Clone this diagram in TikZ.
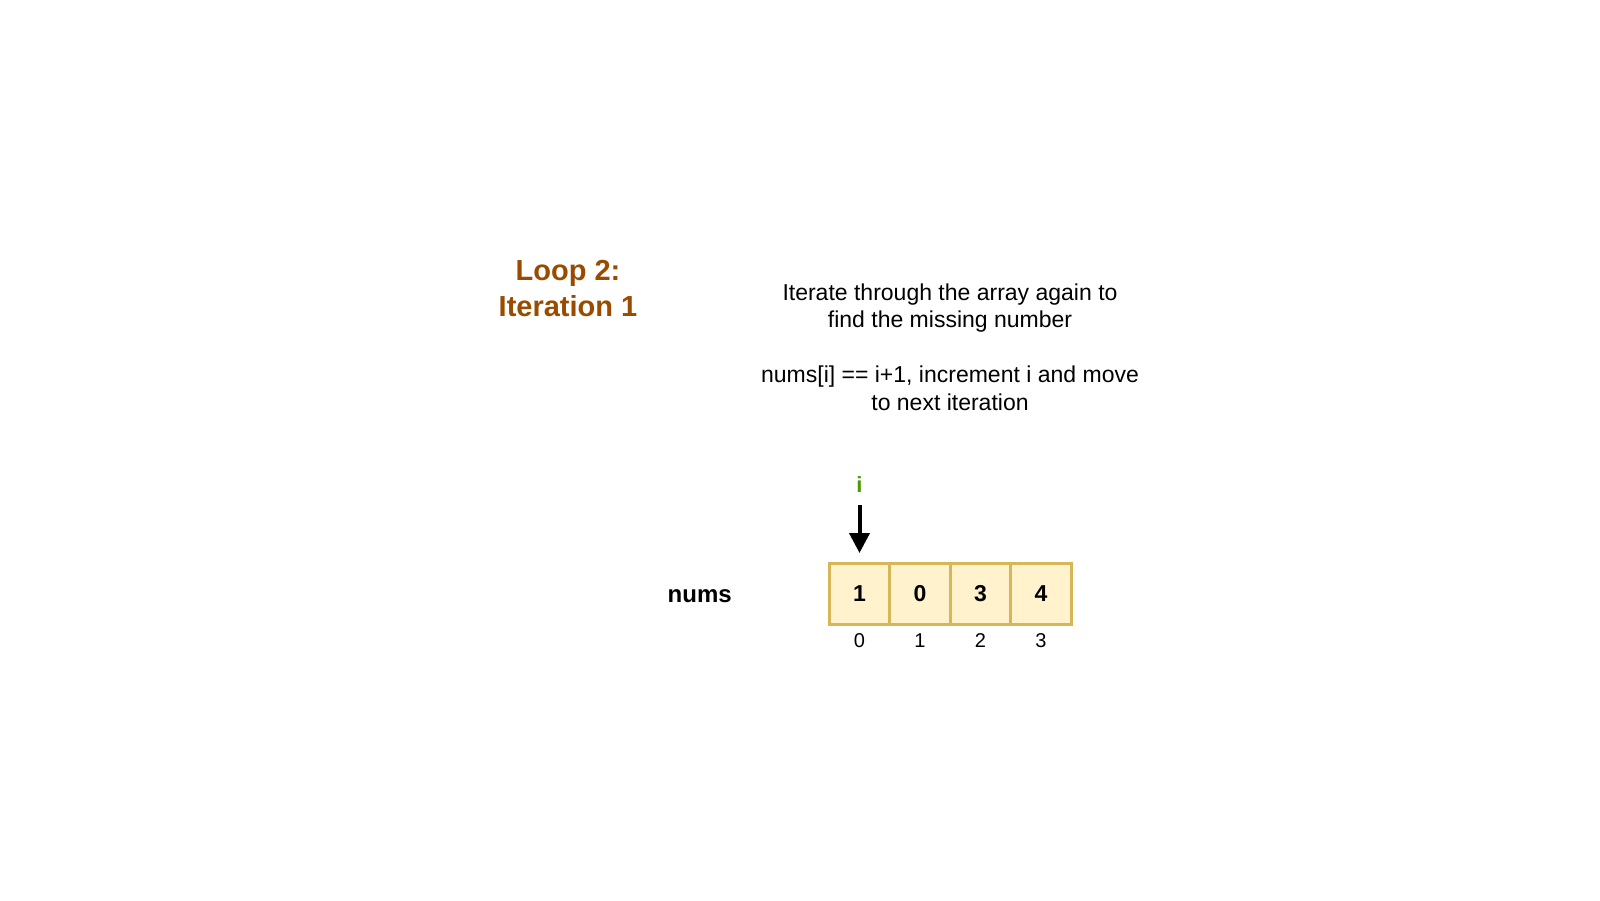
\documentclass[tikz,border=0pt]{standalone}
\usepackage{fontspec}
\setmainfont{Liberation Sans}
\usepackage{xcolor}
\usepackage{tikz}
\usetikzlibrary{
  arrows.meta,
  positioning
}
\definecolor{titlebrown}{HTML}{994C00}
\definecolor{ptrgreen}{HTML}{4D9900}
\definecolor{cellfill}{HTML}{FFF2CC}
\definecolor{celldraw}{HTML}{D6B656}

\begin{document}
\begin{tikzpicture}[
    x=1pt, y=-1pt,
    cell/.style={
        draw=celldraw,
        fill=cellfill,
        line width=3pt,
        rectangle,
        minimum width=60.5pt,
        minimum height=61pt,
        outer sep=0pt,
        inner sep=0pt,
        font=\fontsize{23}{27}\selectfont\bfseries
    },
    idx/.style={
        font=\fontsize{20}{24}\selectfont,
        text height=14pt,
        text depth=0pt
    },
    ptr/.style={-{Triangle[length=20pt,width=20pt]}, line width=4pt, black}
]
\useasboundingbox (0,0) rectangle (1600,900);

% ----------------------------------------------------------
% TEXT
% ----------------------------------------------------------

\node[align=center, text=titlebrown, font=\fontsize{29}{36}\selectfont\bfseries]
    (title) at (568,289) {Loop 2:\\Iteration 1};

\node[align=center, font=\fontsize{23}{27.5}\selectfont]
    (desc) at (950,347) {Iterate through the array again to\\find the missing number\\ \\nums[i] == i+1, increment i and move\\to next iteration};

% ----------------------------------------------------------
% ARRAY
% ----------------------------------------------------------

\node[cell] (c0) at (859.5,593.5) {1};
\node[cell, right=0pt of c0] (c1) {0};
\node[cell, right=0pt of c1] (c2) {3};
\node[cell, right=0pt of c2] (c3) {4};

\node[left=94pt of c0, yshift=-3pt, font=\fontsize{24}{28}\selectfont\bfseries] (nums) {nums};

\node[idx, below=5.5pt of c0] (i0) {0};
\node[idx, below=5.5pt of c1] (i1) {1};
\node[idx, below=5.5pt of c2] (i2) {2};
\node[idx, below=5.5pt of c3] (i3) {3};

% ----------------------------------------------------------
% POINTER
% ----------------------------------------------------------

\node[above=67pt of c0, text=ptrgreen, font=\fontsize{22}{26}\selectfont\bfseries] (ptr) {i};
\draw[ptr, shorten <=9pt, shorten >=10pt] (ptr) -- (c0);

\end{tikzpicture}
\end{document}
